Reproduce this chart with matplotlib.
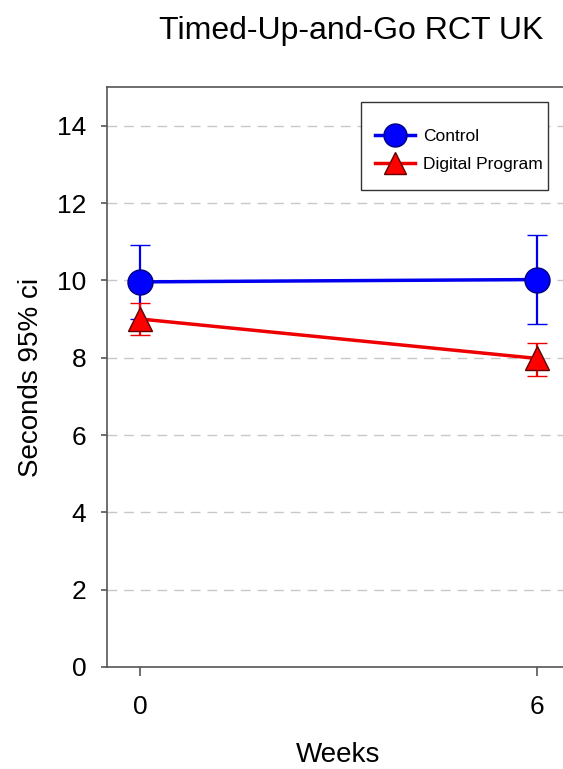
import matplotlib
matplotlib.use("Agg")
import matplotlib.pyplot as plt
from matplotlib.patches import Rectangle

plt.rcParams['font.family'] = ['Liberation Sans', 'DejaVu Sans']

weeks = [0, 6]
control_mean = [9.96, 10.02]
control_lo = [9.00, 8.87]
control_hi = [10.91, 11.16]
digital_mean = [9.00, 7.98]
digital_lo = [8.59, 7.53]
digital_hi = [9.41, 8.38]
yticks = [0, 2, 4, 6, 8, 10, 12, 14]

W, H = 563, 769
fig = plt.figure(figsize=(W/100, H/100), dpi=100)
ax = fig.add_axes([107/W, (H-667)/H, (570-107)/W, (667-87)/H])

def err(mean, lo, hi):
    return [[m - l for m, l in zip(mean, lo)], [h - m for m, h in zip(mean, hi)]]

for y in yticks[1:]:
    ax.axhline(y, color='#c8c8c8', lw=1.0, dashes=(7, 5), zorder=0)

ax.errorbar(weeks, control_mean, yerr=err(control_mean, control_lo, control_hi),
            color='#0000ee', lw=2.5, elinewidth=1.6, capsize=7, capthick=1.6,
            marker='o', ms=18, mfc='#0000ff', mec='#000080', mew=1.0,
            label='Control', zorder=3)
ax.errorbar(weeks, digital_mean, yerr=err(digital_mean, digital_lo, digital_hi),
            color='#ee0000', lw=2.5, elinewidth=1.6, capsize=7, capthick=1.6,
            marker='^', ms=17, mfc='#ff0000', mec='#600000', mew=1.0,
            label='Digital Program', zorder=4)

ax.set_xlim(-0.5, 6.5)
ax.set_ylim(0, 15)
ax.set_yticks(yticks)
ax.set_xticks(weeks)
ax.tick_params(axis='both', labelsize=19, color='#555555', width=1.2, direction='out')
ax.tick_params(axis='y', length=4, pad=11)
ax.tick_params(axis='x', length=6.5, pad=13.5)
for s in ax.spines.values():
    s.set_color('#555555')
    s.set_linewidth(1.2)

ax.set_ylabel('Seconds 95% ci', fontsize=20, labelpad=9)
ax.set_xlabel('Weeks', fontsize=20, labelpad=17)
fig.text(351/W, 1 - 31/H, 'Timed-Up-and-Go RCT UK', fontsize=23, ha='center', va='center')

handles, labels = ax.get_legend_handles_labels()
handles = [h[0] for h in handles]
leg = ax.legend(handles, labels, loc='upper left',
                bbox_to_anchor=(375/W, 1 - 129/H), bbox_transform=fig.transFigure,
                fontsize=12.5, frameon=False, markerscale=0.92,
                handlelength=2.3, borderpad=0, labelspacing=0.75, handletextpad=0.45,
                borderaxespad=0)
fig.add_artist(Rectangle((361/W, 1 - 190/H), (548-361)/W, (190-102)/H,
                         transform=fig.transFigure, facecolor='white',
                         edgecolor='#333333', lw=1.0, zorder=4))
leg.set_zorder(5)
fig.add_artist(leg)

fig.savefig('out.png', dpi=100)
